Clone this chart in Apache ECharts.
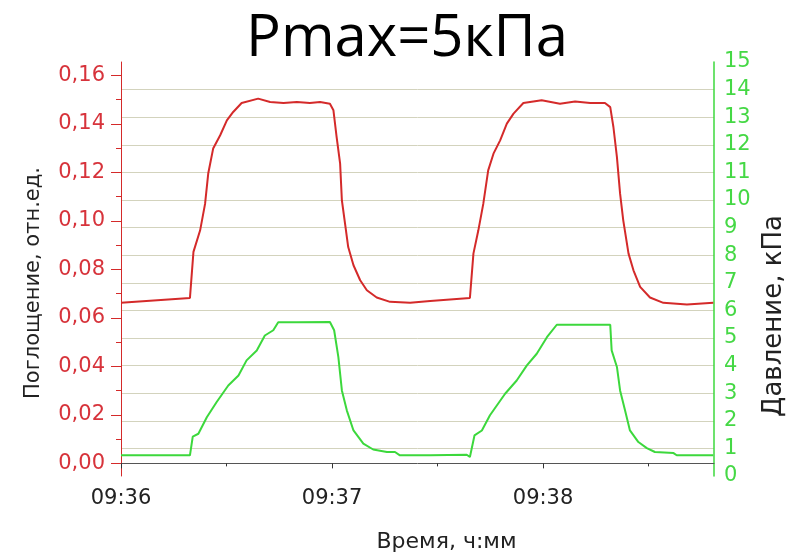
<!DOCTYPE html>
<html>
<head>
<meta charset="utf-8">
<script src="https://cdn.jsdelivr.net/npm/echarts@6/dist/echarts.min.js"></script>
<style>
html,body{margin:0;padding:0;background:#fff;}
#chart{width:799px;height:559px;}
</style>
</head>
<body>
<div id="chart"></div>
<script>
// time in seconds after 09:36:00
const redTime = [0, 19.6, 20.6, 22.5, 23.9, 24.8, 26.2, 28.2, 30.1, 31.9, 34.3, 39.0, 42.4, 46.2, 50.0, 53.7, 56.6, 59.4, 60.4, 61.3, 62.3, 62.8, 63.7, 64.6, 66.1, 68.0, 69.9, 72.7, 76.5, 82.2, 87.9, 99.2, 100.2, 101.6, 103.0, 104.4, 105.9, 107.8, 109.7, 111.6, 114.4, 119.6, 124.8, 129.1, 133.4, 137.6, 139.1, 140.0, 141.0, 141.9, 142.8, 144.3, 145.7, 147.6, 150.4, 154.2, 160.9, 168.4];
const absorbance = [0.0662, 0.0682, 0.0872, 0.0961, 0.107, 0.1195, 0.1298, 0.1353, 0.1414, 0.1449, 0.1486, 0.1504, 0.149, 0.1486, 0.149, 0.1486, 0.149, 0.1483, 0.1456, 0.1346, 0.1236, 0.1085, 0.0989, 0.0892, 0.0817, 0.0755, 0.0714, 0.0684, 0.0666, 0.0662, 0.0670, 0.0682, 0.0865, 0.0961, 0.107, 0.1208, 0.1277, 0.1332, 0.1401, 0.1442, 0.1486, 0.1497, 0.1483, 0.1492, 0.1486, 0.1486, 0.1469, 0.1387, 0.1263, 0.1112, 0.1002, 0.0865, 0.0796, 0.0728, 0.0684, 0.0662, 0.0655, 0.0662];

const greenTime = [0, 19.6, 20.4, 22.0, 24.4, 27.2, 30.5, 33.4, 35.7, 38.6, 40.9, 43.3, 44.7, 50.0, 59.4, 60.6, 61.8, 62.8, 64.2, 66.1, 68.9, 71.7, 75.6, 77.9, 79.3, 87.9, 98.3, 99.2, 100.5, 102.6, 104.9, 109.2, 112.5, 115.4, 118.2, 121.1, 123.9, 139.1, 139.5, 141.0, 141.9, 143.3, 144.7, 147.1, 149.5, 151.8, 157.1, 158.0, 168.4];
const pressure = [0.75, 0.75, 1.43, 1.53, 2.13, 2.68, 3.28, 3.64, 4.19, 4.55, 5.09, 5.28, 5.57, 5.57, 5.58, 5.28, 4.31, 3.10, 2.38, 1.65, 1.17, 0.96, 0.87, 0.87, 0.75, 0.75, 0.77, 0.69, 1.47, 1.65, 2.20, 2.98, 3.46, 4.01, 4.43, 5.03, 5.48, 5.48, 4.55, 3.95, 3.10, 2.38, 1.65, 1.23, 1.01, 0.87, 0.83, 0.75, 0.75];

const timeTicks = [0, 60, 120];
const timeMinorTicks = [30, 90, 150];
const timeTickLabels = ['09:36', '09:37', '09:38'];
const leftTicks = [0, 0.02, 0.04, 0.06, 0.08, 0.10, 0.12, 0.14, 0.16];
const leftMinorTicks = [0.01, 0.03, 0.05, 0.07, 0.09, 0.11, 0.13, 0.15];

const X_MIN = 0, X_MAX = 168.6;
const L_MIN = -0.0052, L_MAX = 0.1655;

const RED = '#d42a2a';
const GREEN = '#3cd83c';
const FONT = 'DejaVu Sans, sans-serif';

const chart = echarts.init(document.getElementById('chart'), null, {renderer: 'canvas'});
const grid = {left: 121, right: 85, top: 62, bottom: 83, containLabel: false};

chart.setOption({
  animation: false,
  backgroundColor: '#ffffff',
  title: {
    text: 'Pmax=5кПа',
    left: 241, top: 5,
    textStyle: {fontFamily: 'Open Sans, Noto Sans, sans-serif', fontSize: 58, fontWeight: 'normal', color: '#000'}
  },
  grid: [grid, Object.assign({}, grid)],
  xAxis: [{
    type: 'value', gridIndex: 0, min: X_MIN, max: X_MAX, position: 'bottom',
    name: 'Время, ч:мм', nameLocation: 'middle', nameGap: 55,
    nameTextStyle: {fontFamily: FONT, fontSize: 22, color: '#222', padding: [0, 0, 0, 58]},
    axisLine: {show: true, lineStyle: {color: '#555', width: 1}},
    axisTick: {show: true, customValues: timeTicks, length: 5, inside: false, lineStyle: {color: '#333'}},
    axisLabel: {show: true, customValues: timeTicks, margin: 12, fontFamily: FONT, fontSize: 21, color: '#222',
      formatter: v => timeTickLabels[timeTicks.indexOf(Math.round(v))] || ''},
    splitLine: {show: false}
  }, {
    type: 'value', gridIndex: 1, min: X_MIN, max: X_MAX, position: 'bottom',
    axisLine: {show: false},
    axisTick: {show: true, customValues: timeMinorTicks, length: 3, lineStyle: {color: '#333'}},
    axisLabel: {show: false},
    splitLine: {show: false}
  }],
  yAxis: [{
    type: 'value', gridIndex: 0, position: 'left', min: L_MIN, max: L_MAX,
    name: 'Поглощение, отн.ед.', nameLocation: 'middle', nameGap: 77,
    nameTextStyle: {fontFamily: FONT, fontSize: 21, color: '#222', padding: [0, 28, 0, 0]},
    axisLine: {show: true, lineStyle: {color: RED, width: 1}},
    axisTick: {show: true, customValues: leftTicks, length: 10, lineStyle: {color: RED}},
    axisLabel: {show: true, customValues: leftTicks, margin: 16, fontFamily: FONT, fontSize: 21, color: '#d7333b',
      formatter: v => v.toFixed(2).replace('.', ',')},
    splitLine: {show: false}
  }, {
    type: 'value', gridIndex: 0, position: 'right', min: 0, max: 15, interval: 1,
    name: 'Давление, кПа', nameLocation: 'middle', nameGap: 45,
    nameTextStyle: {fontFamily: FONT, fontSize: 26, color: '#222', padding: [0, 94, 0, 0]},
    axisLine: {show: true, lineStyle: {color: GREEN, width: 1.5}},
    axisTick: {show: false},
    axisLabel: {show: true, margin: 10, fontFamily: FONT, fontSize: 21, color: '#45d845', padding: [0, 0, 5, 0]},
    splitLine: {show: true, showMinLine: false, showMaxLine: false, lineStyle: {color: '#d3d3bd', width: 1}}
  }, {
    type: 'value', gridIndex: 1, position: 'left', min: L_MIN, max: L_MAX,
    axisLine: {show: false},
    axisTick: {show: true, customValues: leftMinorTicks, length: 5, lineStyle: {color: RED}},
    axisLabel: {show: false},
    splitLine: {show: false}
  }],
  series: [{
    type: 'line', name: 'Поглощение', xAxisIndex: 0, yAxisIndex: 0,
    data: redTime.map((t, i) => [t, absorbance[i]]),
    showSymbol: false, symbol: 'none',
    lineStyle: {color: RED, width: 2}, z: 3
  }, {
    type: 'line', name: 'Давление', xAxisIndex: 0, yAxisIndex: 1,
    data: greenTime.map((t, i) => [t, pressure[i]]),
    showSymbol: false, symbol: 'none',
    lineStyle: {color: GREEN, width: 2}, z: 3
  }]
});
</script>
</body>
</html>
